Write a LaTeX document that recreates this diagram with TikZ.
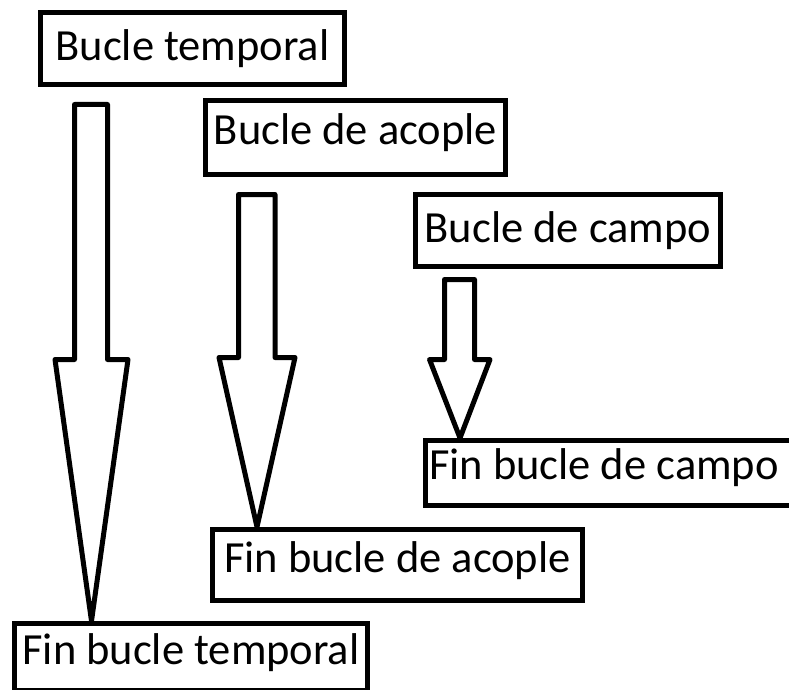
\documentclass[tikz,border=0pt]{standalone}
\usepackage{fontspec}
\setmainfont{Carlito}
\usetikzlibrary{calc}

\tikzset{
  loopbox/.style={draw=black, line width=5pt, inner xsep=0pt, inner ysep=0pt,
    font=\fontsize{44.5}{50}\selectfont, text height=28pt, text depth=#1},
  blockarrow/.style={draw=black, line width=5pt, line join=round, fill=white}
}

\begin{document}
\begin{tikzpicture}[x=1pt, y=-1pt]
  \useasboundingbox (0,0) rectangle (789,690);
  \clip (0,0) rectangle (789,690);
  \fill[white] (0,0) rectangle (789,690);

  % loop start boxes
  \node[loopbox=4pt, minimum width=304pt, minimum height=72pt] (t1) at (192.5,48.5) {Bucle temporal};
  \node[loopbox=15pt, minimum width=300pt, minimum height=74pt] (t2) at (355.5,137.5) {Bucle de acople};
  \node[loopbox=4pt, minimum width=305pt, minimum height=72pt] (t3) at (568,230.5) {Bucle de campo};

  % loop end boxes (the field loop box runs past the right edge)
  \node[loopbox=16pt, minimum width=374.5pt, minimum height=65pt] (e3) at (612.75,473)
    {\makebox[367.5pt][l]{Fin bucle de campo}};
  \node[loopbox=13pt, minimum width=370pt, minimum height=71pt] (e2) at (397.5,565) {Fin bucle de acople};
  \node[loopbox=13.5pt, minimum width=353pt, minimum height=66.5pt] (e1) at (191,656.75) {Fin bucle temporal};

  % arrow tips resting on the end boxes
  \coordinate (tip1) at (e1.north -| 91.5,0);
  \coordinate (tip2) at (e2.north -| 257,0);
  \coordinate (tip3) at (e3.north -| 460,0);

  % block arrows
  \draw[blockarrow] (74.5,104.5) -- (74.5,359.5) -- (55,359.5) -- (tip1)
    -- (128,359.5) -- (107.5,359.5) -- (107.5,104.5) -- cycle;
  \draw[blockarrow] (238.5,194.5) -- (238.5,357.5) -- (219,357.5) -- (tip2)
    -- (295,357.5) -- (275,357.5) -- (275,194.5) -- cycle;
  \draw[blockarrow] (444.5,279.5) -- (444.5,359.5) -- (429.5,359.5) -- (tip3)
    -- (490,359.5) -- (474.5,359.5) -- (474.5,279.5) -- cycle;
\end{tikzpicture}
\end{document}
